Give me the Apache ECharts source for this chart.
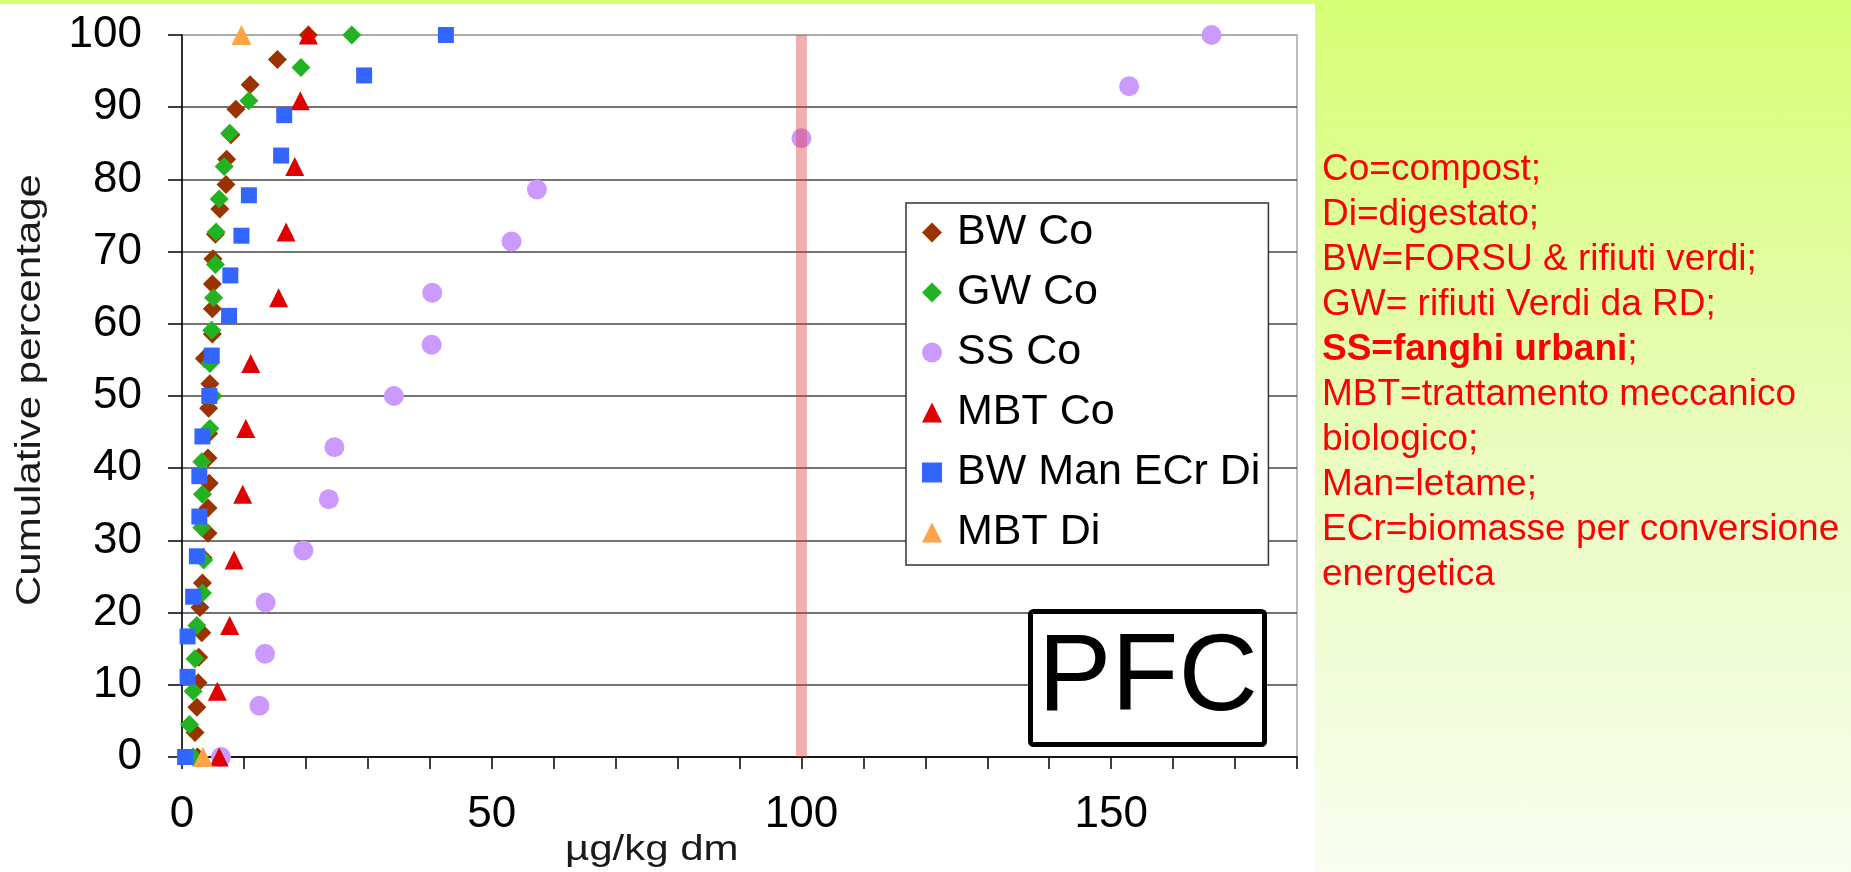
<!DOCTYPE html>
<html>
<head>
<meta charset="utf-8">
<script src="https://cdn.jsdelivr.net/npm/echarts@6/dist/echarts.min.js"></script>
<style>
  html, body {
    margin: 0;
    padding: 0;
    width: 1851px;
    height: 872px;
    overflow: hidden;
    background: linear-gradient(to bottom, #d6ff74 0%, #e9fcbc 50%, #f9fef0 100%);
  }
  #chart { width: 1851px; height: 872px; }
</style>
</head>
<body>
<div id="chart"></div>
<script>
const FONT = "'Liberation Sans', Arial, sans-serif"

// [µg/kg dm, cumulative %]
const bwCo = [[2.5, 0], [2.1, 3.4], [2.4, 6.9], [2.6, 10.3], [2.7, 13.8], [3.2, 17.2], [2.9, 20.7], [3.3, 24.1],
  [3.4, 27.6], [4.2, 31.0], [4.2, 34.5], [4.4, 37.9], [4.2, 41.4], [4.3, 44.8], [4.3, 48.3], [4.5, 51.7],
  [3.6, 55.2], [4.9, 58.6], [4.9, 62.1], [4.9, 65.5], [5.0, 69.0], [5.4, 72.4], [6.1, 75.9], [7.1, 79.3],
  [7.2, 82.8], [7.9, 86.2], [8.7, 89.7], [11.0, 93.1], [15.4, 96.6], [20.4, 100]]
const gwCo = [[1.8, 0], [1.2, 4.5], [1.8, 9.1], [2.1, 13.6], [2.4, 18.2], [3.3, 22.7], [3.5, 27.3], [3.2, 31.8],
  [3.3, 36.4], [3.2, 40.9], [4.5, 45.5], [5.0, 50.0], [4.5, 54.5], [4.8, 59.1], [5.1, 63.6], [5.4, 68.2],
  [5.5, 72.7], [6.0, 77.3], [6.8, 81.8], [7.7, 86.4], [10.8, 90.9], [19.2, 95.5], [27.4, 100]]
const ssCo = [[6.3, 0], [12.5, 7.1], [13.4, 14.3], [13.5, 21.4], [19.6, 28.6], [23.7, 35.7], [24.6, 42.9],
  [34.2, 50.0], [40.3, 57.1], [40.4, 64.3], [53.2, 71.4], [57.3, 78.6], [100, 85.7], [152.9, 92.9], [166.2, 100]]
const mbtCo = [[6.0, 0], [5.7, 9.1], [7.7, 18.2], [8.4, 27.3], [9.8, 36.4], [10.3, 45.5], [11.1, 54.5],
  [15.6, 63.6], [16.8, 72.7], [18.2, 81.8], [19.1, 90.9], [20.4, 100]]
const bwManEcrDi = [[0.5, 0], [0.9, 11.1], [0.9, 16.7], [1.8, 22.2], [2.4, 27.8], [2.8, 33.3], [2.8, 38.9],
  [3.3, 44.4], [4.4, 50.0], [4.8, 55.6], [7.6, 61.1], [7.8, 66.7], [9.6, 72.2], [10.8, 77.8], [16.0, 83.3],
  [16.5, 88.9], [29.4, 94.4], [42.6, 100]]
const mbtDi = [[3.4, 0], [9.6, 100]]

// limit band at 100 µg/kg
const limitLine = [[100, 0], [100, 100]]

const seriesNames = ['BW Co', 'GW Co', 'SS Co', 'MBT Co', 'BW Man ECr Di', 'MBT Di']

const notes = [
  'Co=compost;',
  'Di=digestato;',
  'BW=FORSU & rifiuti verdi;',
  'GW= rifiuti Verdi da RD;',
  '{b|SS=fanghi urbani};',
  'MBT=trattamento meccanico',
  'biologico;',
  'Man=letame;',
  'ECr=biomasse per conversione',
  'energetica'
]

const chart = echarts.init(document.getElementById('chart'))

const scatter = (name, data, symbol, size, color) => ({
  name,
  type: 'scatter',
  data,
  symbol,
  symbolSize: size,
  itemStyle: { color, opacity: 1 },
  z: 2,
})

// gridline colours: 0..90 dark, top (100) is the light frame
const splitColors = ['#444', '#444', '#444', '#444', '#444', '#444', '#444', '#444', '#444', '#444', '#a6a6a6']

chart.setOption({
  animation: false,
  grid: {
    left: 182, top: 35, width: 1115, height: 722,
    outerBoundsMode: 'none',
    show: true,
    borderColor: '#a6a6a6',
    borderWidth: 1.5,
    backgroundColor: 'transparent',
  },
  xAxis: {
    type: 'value',
    min: 0,
    max: 180,
    interval: 10,
    axisLine: { show: true, onZero: false, lineStyle: { color: '#000', width: 1.5 } },
    axisTick: { show: true, length: 12, lineStyle: { color: '#000', width: 1.5 } },
    axisLabel: {
      fontSize: 44, fontFamily: FONT, color: '#000', margin: 36,
      formatter: v => (v % 50 === 0 ? String(v) : ''),
    },
    splitLine: { show: false },
  },
  yAxis: {
    type: 'value',
    min: 0,
    max: 100,
    interval: 10,
    axisLine: { show: true, lineStyle: { color: '#000', width: 1.5 } },
    axisTick: { show: true, length: 14, lineStyle: { color: '#000', width: 1.5 } },
    axisLabel: { fontSize: 44, fontFamily: FONT, color: '#000', margin: 40 },
    splitLine: { show: true, lineStyle: { color: splitColors, width: 1.5 } },
  },
  legend: {
    data: [
      { name: seriesNames[0], icon: 'diamond' },
      { name: seriesNames[1], icon: 'diamond' },
      { name: seriesNames[2], icon: 'circle' },
      { name: seriesNames[3], icon: 'triangle' },
      { name: seriesNames[4], icon: 'rect' },
      { name: seriesNames[5], icon: 'triangle' },
    ],
    orient: 'vertical',
    left: 906,
    top: 203,
    itemWidth: 20,
    itemHeight: 20,
    itemGap: 17,
    padding: [8, 8, 11, 16],
    backgroundColor: '#fff',
    borderColor: '#333',
    borderWidth: 1.5,
    textStyle: { fontSize: 43, fontFamily: FONT, color: '#000', padding: [0, 0, 0, 10] },
  },
  series: [
    scatter(seriesNames[0], bwCo, 'diamond', 19, '#993300'),
    scatter(seriesNames[1], gwCo, 'diamond', 19, '#22b222'),
    scatter(seriesNames[2], ssCo, 'circle', 20, '#cc99ff'),
    scatter(seriesNames[3], mbtCo, 'triangle', 19, '#e00000'),
    scatter(seriesNames[4], bwManEcrDi, 'rect', 16, '#3366ff'),
    scatter(seriesNames[5], mbtDi, 'triangle', 20, '#ffa347'),
    {
      name: 'limit',
      type: 'line',
      data: limitLine,
      symbol: 'none',
      silent: true,
      lineStyle: { width: 11, color: 'rgba(222,55,55,0.4)' },
      z: 3,
    },
  ],
  graphic: [
    // white slide panel behind the plot
    { type: 'rect', z: -1, silent: true, shape: { x: 0, y: 4, width: 1315, height: 868 }, style: { fill: '#fff' } },
    // PFC box
    {
      type: 'rect', z: 50, shape: { x: 1030.5, y: 611.5, width: 234, height: 133, r: 3 },
      style: { fill: '#fff', stroke: '#000', lineWidth: 5 },
    },
    {
      type: 'text', z: 51, x: 1148, y: 680,
      style: { text: 'PFC', font: '110px ' + FONT, fill: '#000', align: 'center', verticalAlign: 'middle', textAlign: 'center', textVerticalAlign: 'middle' },
    },
    // axis titles
    {
      type: 'text', x: 30, y: 390, rotation: Math.PI / 2, scaleX: 1.2,
      style: { text: 'Cumulative percentage', font: '35px ' + FONT, fill: '#1a1a1a', align: 'center', verticalAlign: 'middle', textAlign: 'center', textVerticalAlign: 'middle' },
    },
    {
      type: 'text', x: 565, y: 850, scaleX: 1.2,
      style: { text: 'µg/kg dm', font: '35px ' + FONT, fill: '#1a1a1a', align: 'left', verticalAlign: 'middle', textAlign: 'left', textVerticalAlign: 'middle' },
    },
    // notes on the right
    ...notes.map((t, i) => ({
      type: 'text', x: 1322, y: 170 + i * 45,
      style: {
        text: t, font: '37px ' + FONT, fill: '#ff0000',
        align: 'left', verticalAlign: 'middle', textAlign: 'left', textVerticalAlign: 'middle',
        rich: { b: { fontSize: 37, fontFamily: FONT, fontWeight: 'bold', fill: '#ff0000', color: '#ff0000' } },
      },
    })),
  ],
})
</script>
</body>
</html>
